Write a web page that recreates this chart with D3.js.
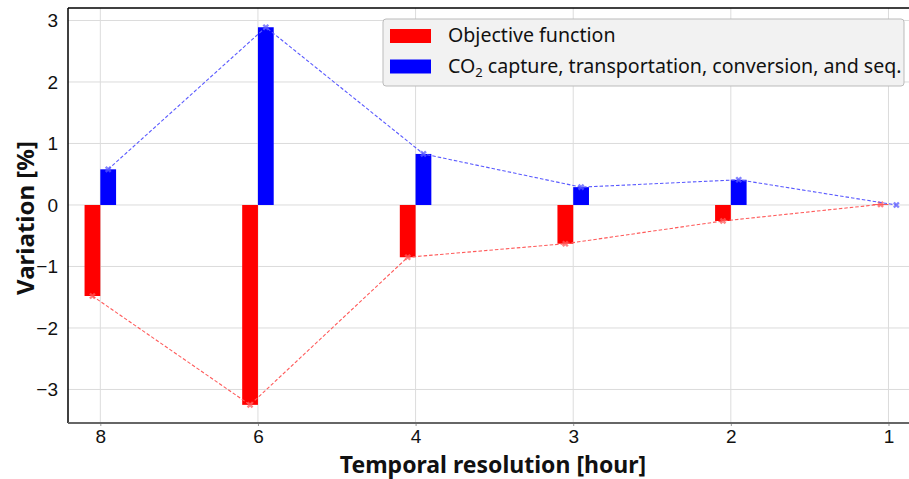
<!DOCTYPE html>
<html>
<head>
<meta charset="utf-8">
<script src="https://cdn.jsdelivr.net/npm/d3@7/dist/d3.min.js"></script>
<style>
  html, body { margin: 0; padding: 0; background: #fff; }
  svg { display: block; font-family: "Noto Sans", "DejaVu Sans", sans-serif; }
</style>
</head>
<body>
<svg id="chart" width="909" height="479"></svg>
<script>
// Temporal resolution categories (hours)
const resolutions = ["8", "6", "4", "3", "2", "1"];
// Variation relative to the 1-hour baseline [%]
const objectiveVariation = [-1.48, -3.25, -0.85, -0.63, -0.26, 0.01];
const co2ChainVariation = [0.58, 2.89, 0.83, 0.29, 0.41, 0.0];
const yTicks = [-3, -2, -1, 0, 1, 2, 3];
const seriesNames = ["Objective function", "CO2 capture, transportation, conversion, and seq."];
const seriesColors = ["#ff0000", "#0000ff"];
const lineColors = ["#ff5a5a", "#5a5aff"];

const svg = d3.select("#chart");
const margin = { left: 68, top: 8, bottom: 423, right: 920 };
const barW = 0.1;

const x = d3.scaleLinear().domain([-0.205, 5.2]).range([margin.left, margin.right]);
const y = d3.scaleLinear().domain([-3.545, 3.203]).range([margin.bottom, margin.top]);

const plot = svg.append("g");

// grid
plot.append("g").selectAll("line.gy").data(yTicks).join("line")
  .attr("x1", margin.left).attr("x2", margin.right)
  .attr("y1", d => y(d)).attr("y2", d => y(d))
  .attr("stroke", "#dcdcdc").attr("stroke-width", 1);
plot.append("g").selectAll("line.gx").data(resolutions).join("line")
  .attr("x1", (d, i) => x(i)).attr("x2", (d, i) => x(i))
  .attr("y1", margin.top).attr("y2", margin.bottom)
  .attr("stroke", "#dcdcdc").attr("stroke-width", 1);

// bars: objective to the left of each tick, CO2 chain to the right
const seriesData = [objectiveVariation, co2ChainVariation];
seriesData.forEach((vals, s) => {
  plot.append("g").selectAll("rect").data(vals).join("rect")
    .attr("x", (d, i) => x(i + (s === 0 ? -barW : 0)))
    .attr("width", x(barW) - x(0))
    .attr("y", d => y(Math.max(0, d)))
    .attr("height", d => Math.abs(y(d) - y(0)))
    .attr("fill", seriesColors[s]);
});

// dashed trend lines through the bar ends with x markers
seriesData.forEach((vals, s) => {
  const off = s === 0 ? -barW / 2 : barW / 2;
  const line = d3.line().x((d, i) => x(i + off)).y(d => y(d));
  plot.append("path").datum(vals)
    .attr("d", line)
    .attr("fill", "none")
    .attr("stroke", lineColors[s])
    .attr("stroke-width", 1.1)
    .attr("stroke-dasharray", "3.5,2");
  const sym = d3.symbol().type(d3.symbolX).size(18);
  plot.append("g").selectAll("path").data(vals).join("path")
    .attr("d", sym)
    .attr("transform", (d, i) => `translate(${x(i + off)},${y(d)})`)
    .attr("fill", "none")
    .attr("stroke", lineColors[s])
    .attr("stroke-width", 2.4)
    .attr("opacity", 0.75);
});

// frame
svg.append("line").attr("x1", margin.left).attr("x2", margin.right)
  .attr("y1", margin.top).attr("y2", margin.top).attr("stroke", "#000").attr("stroke-width", 1.5);
svg.append("line").attr("x1", margin.left).attr("x2", margin.left)
  .attr("y1", margin.top).attr("y2", margin.bottom).attr("stroke", "#000").attr("stroke-width", 1.5);

// axes
const yAxis = d3.axisLeft(y).tickValues(yTicks)
  .tickFormat(d => d < 0 ? "\u2212" + Math.abs(d) : d).tickSize(0).tickPadding(10);
const gy = svg.append("g").attr("transform", `translate(${margin.left},0)`).call(yAxis);
gy.select(".domain").remove();
gy.selectAll("text").attr("font-size", 19).attr("fill", "#111");

const xAxis = d3.axisBottom(x).tickValues(d3.range(resolutions.length))
  .tickFormat(i => resolutions[i]).tickSize(3).tickPadding(4);
const gx = svg.append("g").attr("transform", `translate(0,${margin.bottom})`).call(xAxis);
gx.select(".domain").remove();
gx.selectAll(".tick line").attr("stroke", "#999");
gx.selectAll("text").attr("font-size", 19).attr("fill", "#111");
svg.append("line").attr("x1", margin.left).attr("x2", margin.right)
  .attr("y1", margin.bottom).attr("y2", margin.bottom).attr("stroke", "#666").attr("stroke-width", 2);

// axis titles
svg.append("text").attr("x", 493).attr("y", 473).attr("text-anchor", "middle")
  .attr("font-size", 23).attr("font-weight", "bold").attr("fill", "#111")
  .text("Temporal resolution [hour]");
svg.append("text").attr("transform", "translate(34,218) rotate(-90)").attr("text-anchor", "middle")
  .attr("font-size", 24).attr("font-weight", "bold").attr("fill", "#111")
  .text("Variation [%]");

// legend
const lg = svg.append("g");
lg.append("rect").attr("x", 383).attr("y", 19).attr("width", 521).attr("height", 67)
  .attr("rx", 3).attr("fill", "#f2f2f2").attr("stroke", "#bbb").attr("stroke-width", 1);
seriesNames.forEach((name, s) => {
  const yy = 29 + s * 30.5;
  lg.append("rect").attr("x", 390).attr("y", yy).attr("width", 41).attr("height", 14)
    .attr("fill", seriesColors[s]);
  const t = lg.append("text").attr("x", 448).attr("y", yy + 13).attr("font-size", 19.6).attr("fill", "#111");
  if (name.startsWith("CO2")) {
    t.append("tspan").text("CO");
    t.append("tspan").attr("font-size", 13).attr("dy", 4).text("2");
    t.append("tspan").attr("dy", -4).text(name.slice(3));
  } else {
    t.text(name);
  }
});
</script>
</body>
</html>
